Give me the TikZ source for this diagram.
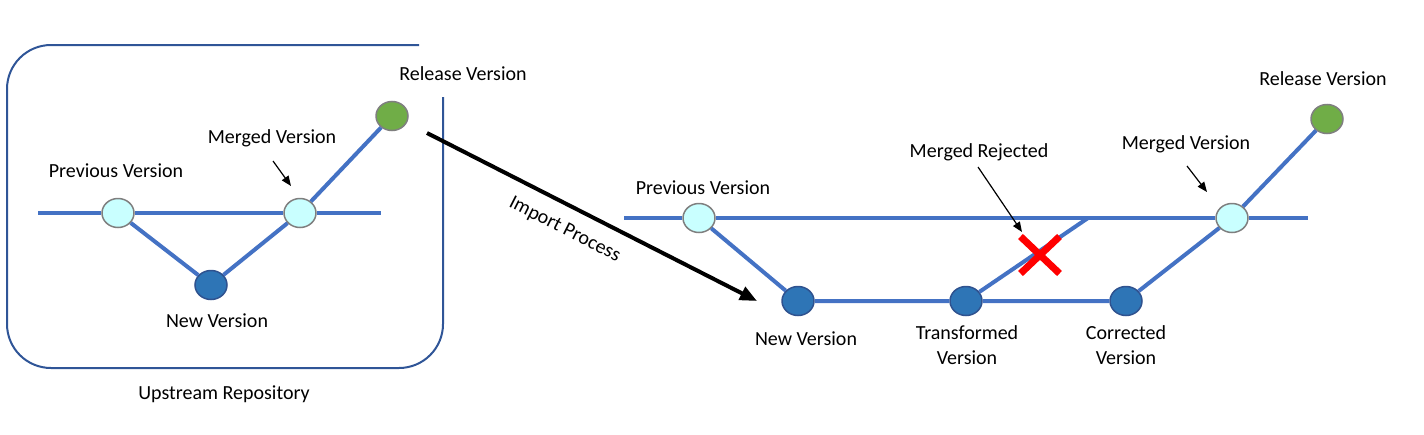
\documentclass[tikz,border=0pt]{standalone}
\usepackage{fontspec}
\setmainfont{Carlito}
\usetikzlibrary{positioning,shapes.geometric,shapes.misc,arrows.meta}
\definecolor{edgeblue}{HTML}{4472C4}
\definecolor{boxblue}{HTML}{2F5597}
\definecolor{nodecyan}{HTML}{C9FFFF}
\definecolor{nodegray}{HTML}{7F7F7F}
\definecolor{nodeblue}{HTML}{2E75B6}
\definecolor{nodeedge}{HTML}{2F528F}
\definecolor{nodegreen}{HTML}{70AD47}

\begin{document}
\begin{tikzpicture}[x=1pt,y=-1pt,
  ver/.style={ellipse,line width=1.5pt,minimum width=32pt,minimum height=29pt,inner sep=0pt},
  oldver/.style={ver,draw=nodegray,fill=nodecyan},
  newver/.style={ver,draw=nodeedge,fill=nodeblue},
  relver/.style={ver,draw=nodegray,fill=nodegreen},
  lbl/.style={font=\fontsize{20}{25}\selectfont,inner sep=0pt,align=center},
  branch/.style={draw=edgeblue,line width=4pt},
  pointer/.style={-{Triangle[length=10pt,width=8pt]},line width=1.2pt}]
\useasboundingbox (0,0) rectangle (1424,434);
\draw[boxblue,line width=2pt,rounded corners=44pt] (443,97) -- (443,368) -- (7,368) -- (7,45) -- (419,45);
\node[lbl] (repo) at (224,394) {Upstream Repository};
\node[oldver] (prevL) at (118,213) {};
\node[oldver] (mergeL) at (300,213) {};
\node[newver] (newL) at (211,285) {};
\node[relver] (relL) at (392,116) {};
\coordinate (startL) at (38,213);
\coordinate (endL) at (381,213);
\draw[branch] (startL) -- (prevL) -- (mergeL) -- (endL);
\draw[branch] (prevL) -- (newL) -- (mergeL) -- (relL);
\node[lbl] (prevLlbl) at (116,171) {Previous Version};
\node[lbl] (mergeLlbl) at (272,138) {Merged Version};
\node[lbl] (newLlbl) at (217,321) {New Version};
\node[lbl] (relLlbl) at (463,74) {Release Version};
\coordinate (mptrL) at (273,161);
\coordinate (mtipL) at (291,186);
\draw[pointer] (mptrL) -- (mtipL);
\coordinate (impA) at (427,133);
\coordinate (impB) at (757,301);
\draw[line width=4pt,-{Triangle[length=17pt,width=14pt]}] (impA) -- (impB) node[lbl,sloped,below=14pt,pos=0.45] (imp) {Import Process};
\node[oldver] (prevR) at (699,218) {};
\node[newver] (newR) at (798,301) {};
\node[newver] (transR) at (966,301) {};
\node[newver] (corrR) at (1126,301) {};
\node[oldver] (mergeR) at (1232,218) {};
\node[relver] (relR) at (1327,119) {};
\coordinate (startR) at (624,218);
\coordinate (joinR) at (1088,218);
\coordinate (endR) at (1308,218);
\draw[branch] (startR) -- (prevR) -- (joinR) -- (mergeR) -- (endR);
\draw[branch] (prevR) -- (newR) -- (transR) -- (corrR) -- (mergeR) -- (relR);
\draw[branch] (transR) -- (joinR);
\node[cross out,draw=red,line width=7pt,minimum width=32pt,minimum height=30pt] (rejR) at (1040,255) {};
\node[lbl] (prevRlbl) at (703,188) {Previous Version};
\node[lbl] (newRlbl) at (806,339) {New Version};
\node[lbl] (transRlbl) at (967,345) {Transformed\\Version};
\node[lbl] (corrRlbl) at (1126,345) {Corrected\\Version};
\node[lbl] (rejRlbl) at (979,152) {Merged Rejected};
\node[lbl] (mergeRlbl) at (1186,144) {Merged Version};
\node[lbl] (relRlbl) at (1323,79) {Release Version};
\coordinate (rptrR) at (978,167);
\coordinate (rtipR) at (1022,232);
\draw[pointer] (rptrR) -- (rtipR);
\coordinate (mptrR) at (1187,166);
\coordinate (mtipR) at (1207,192);
\draw[pointer] (mptrR) -- (mtipR);
\end{tikzpicture}
\end{document}
